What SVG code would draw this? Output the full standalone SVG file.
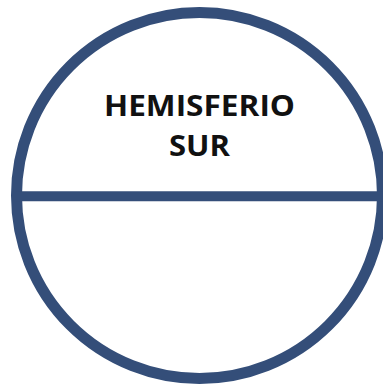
<svg xmlns="http://www.w3.org/2000/svg" width="383" height="385" viewBox="0 0 383 385">
<style>
.shape{fill:none;stroke:#344e79;}
.lbl{font-family:"Open Sans","Liberation Sans",sans-serif;font-weight:700;font-size:28.5px;fill:#111;text-anchor:middle;}
</style>
<rect width="383" height="385" fill="#fff"/>
<g id="globe">
<circle class="shape" cx="199.5" cy="195.5" r="183" stroke-width="11"/>
</g>
<g id="connectors">
<line class="shape" x1="16" y1="196.3" x2="383" y2="196.3" stroke-width="10"/>
</g>
<g id="label">
<text class="lbl" x="199.5" y="115.5" textLength="191" lengthAdjust="spacingAndGlyphs">HEMISFERIO</text>
<text class="lbl" x="199.5" y="155.5" textLength="61" lengthAdjust="spacingAndGlyphs">SUR</text>
</g>
</svg>
